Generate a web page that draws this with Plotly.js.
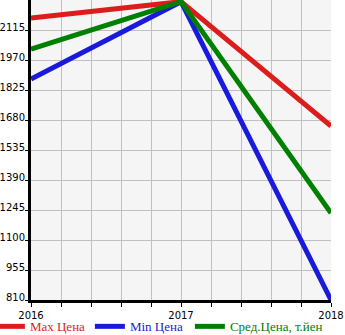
<!DOCTYPE html>
<html><head><meta charset="utf-8">
<script src="https://cdn.plot.ly/plotly-3.0.1.min.js"></script>
<style>html,body{margin:0;padding:0;background:#fff}</style>
</head><body>
<div id="chart" style="width:345px;height:335px"></div>
<script>
const years = [2016, 2017, 2018];
const maxPrice = [2173, 2252, 1651];
const minPrice = [1878, 2252, 810];
const avgPrice = [2023, 2252, 1230];
const yTicks = [810, 955, 1100, 1245, 1390, 1535, 1680, 1825, 1970, 2115];
const xTickVals = [2016, 2016.2, 2016.4, 2016.6, 2016.8, 2017, 2017.2, 2017.4, 2017.6, 2017.8, 2018];
const xTickText = ['2016', '', '', '', '', '2017', '', '', '', '', '2018'];
const names = ['Max Цена', 'Min Цена', 'Сред.Цена, т.йен'];
const colors = ['#dd1c1c', '#1a1adc', '#008000'];
const series = [maxPrice, minPrice, avgPrice];

const traces = series.map((s, i) => ({
  x: years, y: s, type: 'scatter', mode: 'lines', name: names[i],
  line: {color: colors[i], width: 5}, cliponaxis: false
}));

const layout = {
  width: 345, height: 335,
  margin: {l: 31, r: 14, t: 0, b: 35, pad: 0, autoexpand: false},
  paper_bgcolor: '#ffffff', plot_bgcolor: '#f5f5f5',
  showlegend: true,
  legend: {orientation: 'h', x: -0.137, xanchor: 'left', y: -0.038, yanchor: 'top',
    font: {family: 'Liberation Serif', size: 13}, entrywidth: 55, entrywidthmode: 'pixels',
    tracegroupgap: 0, borderwidth: 0, bgcolor: 'rgba(0,0,0,0)'},
  xaxis: {range: [2016, 2018], tickmode: 'array', tickvals: xTickVals, ticktext: xTickText,
    showgrid: true, gridcolor: '#c0c0c0', gridwidth: 1, zeroline: false,
    showline: true, linecolor: '#000', linewidth: 3,
    ticks: 'outside', ticklen: 4, tickcolor: '#000', tickwidth: 1,
    tickfont: {family: 'DejaVu Sans', size: 10, color: '#000'}},
  yaxis: {range: [810, 2260], tickmode: 'array', tickvals: yTicks,
    showgrid: true, gridcolor: '#c0c0c0', gridwidth: 1, zeroline: false,
    showline: true, linecolor: '#000', linewidth: 3,
    ticks: 'outside', ticklen: 3, tickcolor: '#000', tickwidth: 1,
    ticklabelshift: -3, ticklabelstandoff: -2,
    tickfont: {family: 'DejaVu Sans', size: 10, color: '#000'}}
};

function fixLegend() {
  document.querySelectorAll('.legend .traces').forEach((g, i) => {
    const t = g.querySelector('text.legendtext');
    if (t) t.style.fill = colors[i];
  });
  document.querySelectorAll('.legend, .legend .scrollbox, .legend g').forEach(el => {
    el.removeAttribute('clip-path');
  });
}

Plotly.newPlot('chart', traces, layout, {displayModeBar: false, staticPlot: true}).then(fixLegend);
</script>
</body></html>
